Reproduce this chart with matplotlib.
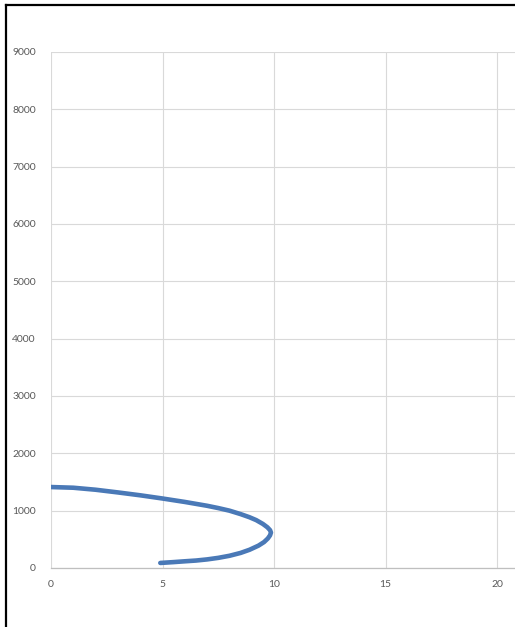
import matplotlib
matplotlib.use("Agg")
import matplotlib.pyplot as plt
from matplotlib.lines import Line2D

# Data
x_vals = [4.9, 5.5, 6.0, 6.5, 7.0, 7.5, 8.0, 8.5, 8.9, 9.3, 9.55, 9.72, 9.82, 9.86,
          9.82, 9.7, 9.5, 9.2, 8.9, 8.5, 8.0, 7.5, 7.0, 6.0, 5.0, 4.0, 3.0, 2.0, 1.0, 0.0]
y_vals = [88, 103, 117, 130, 150, 177, 213, 263, 318, 390, 452, 515, 570, 618,
          660, 710, 768, 835, 885, 940, 1000, 1045, 1085, 1152, 1212, 1268, 1318, 1365, 1400, 1412]
x_ticks = [0, 5, 10, 15, 20]
y_ticks = [0, 1000, 2000, 3000, 4000, 5000, 6000, 7000, 8000, 9000]

plt.rcParams['font.family'] = ['Lato', 'DejaVu Sans']

fig = plt.figure(figsize=(5.15, 6.27), dpi=100)
ax = fig.add_axes([0.099, 0.0941, 0.901, 0.823])

ax.plot(x_vals, y_vals, color='#4a79b7', lw=3.3, solid_capstyle='round', solid_joinstyle='round')

ax.set_xlim(0, 20.8)
ax.set_ylim(0, 9000)
ax.set_xticks(x_ticks)
ax.set_yticks(y_ticks)
ax.grid(True, color='#d9d9d9', lw=0.8)
ax.set_axisbelow(True)
for s in ['top', 'right', 'left']:
    ax.spines[s].set_visible(False)
ax.spines['bottom'].set_color('#bfbfbf')
ax.spines['bottom'].set_linewidth(0.9)
ax.tick_params(axis='both', length=0, labelsize=7.5, labelcolor='#595959')
ax.tick_params(axis='y', pad=11)
ax.tick_params(axis='x', pad=9)

# screenshot border (top and left)
fig.add_artist(Line2D([0.0126, 1.0], [0.9928, 0.9928], color='black', lw=1.6, transform=fig.transFigure))
fig.add_artist(Line2D([0.0126, 0.0126], [0.0, 0.9928], color='black', lw=1.6, transform=fig.transFigure))

fig.savefig('out.png', dpi=100)
